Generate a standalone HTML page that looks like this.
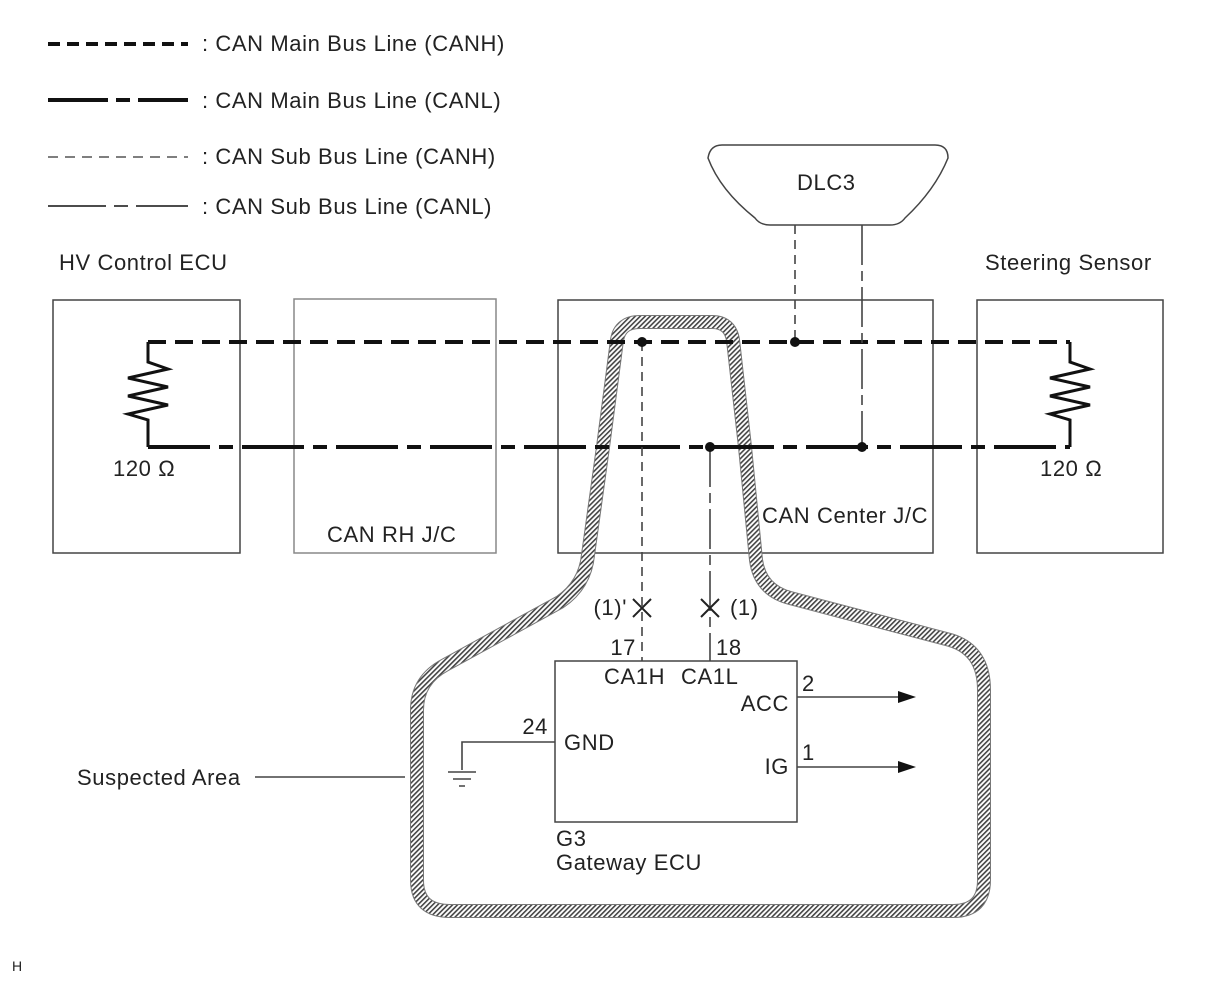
<!DOCTYPE html>
<html><head><meta charset="utf-8"><style>
html,body{margin:0;padding:0;background:#fff}
svg{display:block}
text{font-family:"Liberation Sans",sans-serif;font-size:22px;letter-spacing:0.6px;fill:#222}
</style></head><body>
<svg width="1208" height="984" viewBox="0 0 1208 984" xmlns="http://www.w3.org/2000/svg">
<defs>
<pattern id="h" patternUnits="userSpaceOnUse" width="3.5" height="3.5" patternTransform="rotate(45)">
<rect width="3.5" height="3.5" fill="#fff"/><rect width="1.6" height="3.5" fill="#444"/>
</pattern>
</defs>
<g stroke="#111" fill="none">
<line x1="48" y1="44" x2="188" y2="44" stroke-width="4" stroke-dasharray="12,7"/>
<path d="M48 100H108M116 100H130M138 100H188" stroke-width="4"/>
<line x1="48" y1="157" x2="188" y2="157" stroke-width="1.5" stroke="#555" stroke-dasharray="10,7"/>
<path d="M48 206H106M114 206H128M136 206H188" stroke-width="1.5"/>
</g>
<text x="202" y="51">: CAN Main Bus Line (CANH)</text>
<text x="202" y="108">: CAN Main Bus Line (CANL)</text>
<text x="202" y="164">: CAN Sub Bus Line (CANH)</text>
<text x="202" y="214">: CAN Sub Bus Line (CANL)</text>
<text x="59" y="270">HV Control ECU</text>
<text x="985" y="270">Steering Sensor</text>
<g fill="none" stroke="#444" stroke-width="1.5">
<rect x="53" y="300" width="187" height="253"/>
<rect x="294" y="299" width="202" height="254" stroke="#888"/>
<rect x="558" y="300" width="375" height="253"/>
<rect x="977" y="300" width="186" height="253"/>
<rect x="555" y="661" width="242" height="161"/>
<path d="M708 158 Q710 145 722 145 H935 Q948 145 948 158 Q935 190 905 218 Q900 225 890 225 H770 Q760 225 755 218 Q720 190 708 158 Z"/>
</g>
<text x="797" y="190">DLC3</text>
<text x="327" y="542">CAN RH J/C</text>
<text x="762" y="523">CAN Center J/C</text>
<text x="113" y="476">120 Ω</text>
<text x="1040" y="476">120 Ω</text>
<path d="M640 322 H712 Q730 322 733 340 L745 447 L756 560 Q760 590 790 598 L950 640 Q984 650 984 690 V880 Q984 911 953 911 H450 Q417 911 417 880 V710 Q417 680 445 665 L560 602 Q585 585 588 555 L603 447 L617 340 Q620 322 640 322 Z" fill="none" stroke="#777" stroke-width="14"/>
<path d="M640 322 H712 Q730 322 733 340 L745 447 L756 560 Q760 590 790 598 L950 640 Q984 650 984 690 V880 Q984 911 953 911 H450 Q417 911 417 880 V710 Q417 680 445 665 L560 602 Q585 585 588 555 L603 447 L617 340 Q620 322 640 322 Z" fill="none" stroke="url(#h)" stroke-width="12"/>
<g fill="none" stroke="#111" stroke-width="4">
<path d="M148 342 H1070" stroke-dasharray="18,9"/>
<path d="M148 447 H1070" stroke-dasharray="62,9,14,9"/>
<path d="M148 342 V362 L168 369 L128 378 L168 387 L128 396 L168 405 L128 414 L148 420 V447" stroke-width="3"/>
<path d="M1070 342 V362 L1090 369 L1050 378 L1090 387 L1050 396 L1090 405 L1050 414 L1070 420 V447" stroke-width="3"/>
</g>
<g fill="none" stroke="#444" stroke-width="1.6">
<path d="M795 225 V342" stroke-dasharray="9,6"/>
<path d="M862 225 V447" stroke-dasharray="40,6,10,6"/>
<path d="M642 342 V661" stroke-dasharray="9,6"/>
<path d="M710 447 V661" stroke-dasharray="40,6,10,6"/>
<path d="M633 599 L651 617 M651 599 L633 617 M701 599 L719 617 M719 599 L701 617" stroke="#222" stroke-width="2"/>
<path d="M555 742 H462 V770 M448 772 H476 M453 779 H471 M459 786 H465"/>
<path d="M797 697 H900 M797 767 H900"/>
<path d="M255 777 H405"/>
</g>
<path d="M898 691 L916 697 L898 703 Z M898 761 L916 767 L898 773 Z" fill="#111"/>
<g fill="#111">
<circle cx="642" cy="342" r="5"/><circle cx="795" cy="342" r="5"/>
<circle cx="710" cy="447" r="5"/><circle cx="862" cy="447" r="5"/>
</g>
<text x="627" y="615" text-anchor="end">(1)'</text>
<text x="730" y="615">(1)</text>
<text x="636" y="655" text-anchor="end">17</text>
<text x="716" y="655">18</text>
<text x="604" y="684">CA1H</text>
<text x="681" y="684">CA1L</text>
<text x="802" y="691">2</text>
<text x="789" y="711" text-anchor="end">ACC</text>
<text x="802" y="760">1</text>
<text x="789" y="774" text-anchor="end">IG</text>
<text x="548" y="734" text-anchor="end">24</text>
<text x="564" y="750">GND</text>
<text x="556" y="846">G3</text>
<text x="556" y="870">Gateway ECU</text>
<text x="77" y="785">Suspected Area</text>
<text x="12" y="971" style="font-size:14px">H</text>
</svg>
</body></html>
